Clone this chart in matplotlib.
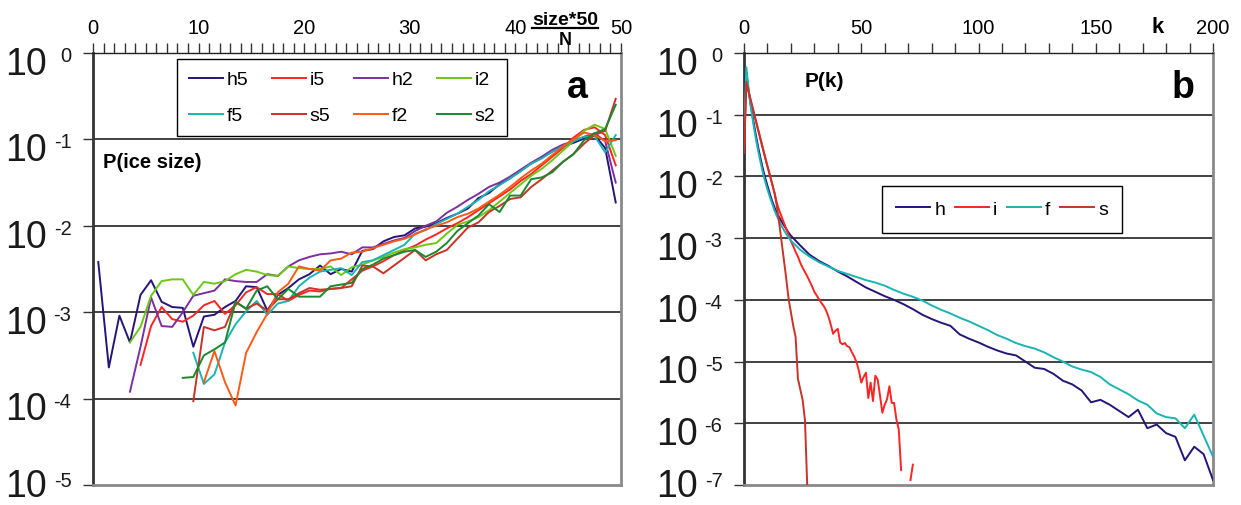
import numpy as np
import matplotlib
matplotlib.use("Agg")
import matplotlib.pyplot as plt
from matplotlib.lines import Line2D
from matplotlib.ticker import MultipleLocator, NullLocator

plt.rcParams["font.family"] = ["Liberation Sans", "DejaVu Sans"]

nan = np.nan

# ---- panel a: P(ice size), values given as log10, one per size class 0..49
size_classes = np.arange(50)

h5 = [-2.42, -3.64, -3.04, -3.35, -2.80, -2.63, -2.88, -2.94, -2.95, -3.40,
      -3.05, -3.03, -2.94, -2.87, -2.70, -2.71, -2.98, -2.80, -2.72, -2.62,
      -2.56, -2.46, -2.56, -2.50, -2.53, -2.29, -2.27, -2.18, -2.13, -2.11,
      -2.03, -2.01, -1.97, -1.91, -1.86, -1.80, -1.68, -1.62, -1.52, -1.45,
      -1.36, -1.28, -1.21, -1.14, -1.08, -1.04, -0.99, -0.95, -1.10, -1.73]
i5 = [nan, nan, nan, nan, -3.61, -3.16, -2.94, -3.08, -3.11, -3.04,
      -2.92, -2.87, -3.02, -2.92, -2.77, -2.71, -2.79, -2.79, -2.87, -2.80,
      -2.75, -2.76, -2.73, -2.72, -2.62, -2.52, -2.47, -2.41, -2.34, -2.28,
      -2.23, -2.16, -2.10, -2.03, -1.97, -1.90, -1.82, -1.74, -1.66, -1.58,
      -1.48, -1.40, -1.30, -1.20, -1.10, -0.98, -0.89, -0.86, -0.95, -1.30]
h2 = [nan, nan, nan, -3.92, -3.40, -2.83, -3.16, -3.17, -3.00, -2.81,
      -2.78, -2.75, -2.62, -2.64, -2.65, -2.65, -2.56, -2.58, -2.47, -2.40,
      -2.36, -2.33, -2.32, -2.30, -2.33, -2.25, -2.25, -2.21, -2.17, -2.14,
      -2.06, -2.00, -1.95, -1.85, -1.78, -1.70, -1.63, -1.55, -1.50, -1.43,
      -1.35, -1.27, -1.20, -1.12, -1.06, -1.02, -0.97, -0.93, -1.02, -1.50]
i2 = [nan, nan, nan, -3.35, -3.17, -2.81, -2.64, -2.62, -2.62, -2.80,
      -2.65, -2.67, -2.64, -2.56, -2.51, -2.53, -2.57, -2.58, -2.47, -2.49,
      -2.50, -2.50, -2.47, -2.57, -2.48, -2.45, -2.40, -2.36, -2.31, -2.27,
      -2.25, -2.22, -2.20, -2.09, -1.99, -1.95, -1.90, -1.82, -1.72, -1.62,
      -1.52, -1.42, -1.34, -1.24, -1.13, -1.02, -0.90, -0.83, -0.88, -1.19]
f5 = [nan, nan, nan, nan, nan, nan, nan, nan, nan,
      -3.47, -3.83, -3.72, -3.35, -3.14, -2.99, -2.87, -3.03, -2.90, -2.87, -2.70,
      -2.60, -2.53, -2.51, -2.49, -2.57, -2.42, -2.40, -2.34, -2.28, -2.22,
      -2.09, -2.05, -1.98, -1.92, -1.86, -1.78, -1.70, -1.60, -1.53, -1.45,
      -1.37, -1.28, -1.22, -1.14, -1.08, -1.02, -0.97, -0.96, -1.15, -0.95]
s5 = [nan, nan, nan, nan, nan, nan, nan, nan, nan,
      -4.03, -3.17, -3.21, -3.17, -2.88, -2.96, -2.90, -2.98, -2.85, -2.85, -2.78,
      -2.72, -2.74, -2.73, -2.72, -2.70, -2.46, -2.47, -2.55, -2.46, -2.37,
      -2.28, -2.40, -2.33, -2.28, -2.15, -2.02, -1.96, -1.84, -1.77, -1.69,
      -1.67, -1.55, -1.46, -1.36, -1.26, -1.17, -1.05, -0.95, -0.90, -0.53]
f2 = [nan, nan, nan, nan, nan, nan, nan, nan, nan, nan,
      -3.81, -3.45, -3.81, -4.08, -3.47, -3.23, -3.02, -2.77, -2.67, -2.47,
      -2.50, -2.52, -2.40, -2.38, -2.31, -2.30, -2.26, -2.22, -2.18, -2.15,
      -2.10, -2.04, -2.00, -1.96, -1.90, -1.86, -1.80, -1.72, -1.64, -1.55,
      -1.45, -1.36, -1.28, -1.18, -1.08, -1.00, -0.92, -0.95, -1.02, -1.01]
s2 = [nan, nan, nan, nan, nan, nan, nan, nan,
      -3.76, -3.75, -3.50, -3.43, -3.35, -2.88, -2.96, -2.75, -2.70, -2.85, -2.73, -2.82,
      -2.82, -2.82, -2.70, -2.68, -2.66, -2.50, -2.45, -2.38, -2.34, -2.30,
      -2.28, -2.36, -2.30, -2.20, -2.06, -1.97, -1.88, -1.75, -1.84, -1.65,
      -1.65, -1.46, -1.44, -1.38, -1.26, -1.17, -1.01, -0.93, -0.88, -0.60]

# ---- panel b: P(k), log10 values
k_hf = np.concatenate([np.arange(0, 21), np.arange(24, 201, 4)])
h = [-1.15, -0.32, -0.62, -0.88, -1.10, -1.32, -1.52, -1.70, -1.87, -2.02,
     -2.15, -2.28, -2.40, -2.50, -2.59, -2.66, -2.73, -2.79, -2.85, -2.91, -2.96,
     -3.12, -3.27, -3.37, -3.45, -3.54, -3.62, -3.71, -3.80, -3.87, -3.94,
     -4.00, -4.07, -4.15, -4.24, -4.31, -4.37, -4.42, -4.56, -4.63, -4.69,
     -4.76, -4.82, -4.87, -4.90, -5.00, -5.10, -5.12, -5.20, -5.31, -5.37,
     -5.47, -5.66, -5.62, -5.70, -5.80, -5.90, -5.78, -6.08, -6.02, -6.16,
     -6.22, -6.60, -6.38, -6.50, -6.92]
f = [-1.30, -0.23, -0.60, -0.90, -1.15, -1.38, -1.58, -1.76, -1.93, -2.08,
     -2.21, -2.33, -2.44, -2.55, -2.64, -2.72, -2.80, -2.87, -2.93, -2.99, -3.04,
     -3.19, -3.30, -3.39, -3.46, -3.53, -3.58, -3.63, -3.68, -3.72, -3.77,
     -3.84, -3.90, -3.95, -4.01, -4.09, -4.16, -4.22, -4.29, -4.35, -4.42,
     -4.49, -4.57, -4.63, -4.70, -4.75, -4.79, -4.85, -4.93, -5.00, -5.08,
     -5.13, -5.17, -5.25, -5.37, -5.45, -5.53, -5.63, -5.70, -5.84, -5.90,
     -5.92, -6.08, -5.86, -6.20, -6.54]
k_i = np.arange(0, 73)
i = [-1.60, -0.49, -0.64, -0.80, -0.95, -1.10, -1.25, -1.40, -1.55, -1.70,
     -1.84, -1.98, -2.12, -2.26, -2.43, -2.55, -2.65, -2.75, -2.85, -2.95,
     -3.05, -3.13, -3.22, -3.30, -3.40, -3.48, -3.55, -3.62, -3.70, -3.78,
     -3.87, -3.93, -3.99, -4.05, -4.10, -4.17, -4.27, -4.40, -4.55, -4.50,
     -4.47, -4.69, -4.72, -4.70, -4.75, -4.77, -4.85, -4.92, -5.01, -5.15,
     -5.34, -5.25, -5.18, -5.59, -5.34, -5.64, -5.23, -5.29, -5.55, -5.83,
     -5.70, -5.61, -5.40, -5.67, -5.67, -5.94, -6.10, -6.76, nan, nan,
     nan, -6.92, -6.67]
k_s = np.arange(0, 28)
s = [-1.62, -0.47, -0.62, -0.78, -0.93, -1.08, -1.23, -1.38, -1.53, -1.68,
     -1.83, -1.97, -2.12, -2.27, -2.48, -2.75, -3.05, -3.35, -3.65, -3.98,
     -4.20, -4.42, -4.60, -5.28, -5.45, -5.62, -5.95, -7.05]

colors = {
    "h": "#261478", "i": "#ff2424", "h2": "#7d2fa0", "i2": "#6cc814",
    "f": "#1ab4b4", "s": "#c83228", "f2": "#ff5a14", "s2": "#168a2c",
}

W, H = 1241, 506
fig = plt.figure(figsize=(W / 100, H / 100), dpi=100)


def px(x, y):
    return x / W, 1 - y / H


ax_a = fig.add_axes([93 / W, 1 - 486 / H, 528 / W, 432 / H])
ax_b = fig.add_axes([744 / W, 1 - 486 / H, 469 / W, 432 / H])


def style_axes(ax, xmax, major, minor, low_exp):
    ax.set_yscale("log")
    ax.set_xlim(0, xmax)
    ax.set_ylim(10.0 ** low_exp, 1)
    ax.xaxis.tick_top()
    ax.xaxis.set_major_locator(MultipleLocator(major))
    ax.xaxis.set_minor_locator(MultipleLocator(minor))
    ax.tick_params(axis="x", which="both", direction="out", length=7,
                   width=1, color="#333333", labelsize=14.5, pad=4.5)
    ax.set_yticks([10.0 ** e for e in range(low_exp, 1)])
    ax.yaxis.set_minor_locator(NullLocator())
    ax.tick_params(axis="y", which="major", direction="out", length=7,
                   width=1, color="#333333", labelleft=False)
    for e in range(low_exp + 1, 0):
        ax.axhline(10.0 ** e, color="#333333", lw=1.3, zorder=1)
    ax.spines["top"].set_color("#222222")
    ax.spines["top"].set_linewidth(1.0)
    ax.spines["left"].set_color("#333333")
    ax.spines["left"].set_linewidth(2.0)
    for side in ("right", "bottom"):
        ax.spines[side].set_color("#8a8a8a")
        ax.spines[side].set_linewidth(2.0)
    # y labels drawn as "10" plus a raised exponent; the lowest one sits a bit higher
    for e in range(low_exp, 1):
        lift = 7 if e == low_exp else 0
        ax.annotate("10", xy=(0, 10.0 ** e), xycoords=("axes fraction", "data"),
                    xytext=(-33, -15 + lift), textcoords="offset points",
                    ha="right", va="baseline", fontsize=27, color="#1a1a1a",
                    annotation_clip=False)
        ax.annotate(str(e), xy=(0, 10.0 ** e), xycoords=("axes fraction", "data"),
                    xytext=(-15.5, -5.8 + lift * 0.7), textcoords="offset points",
                    ha="right", va="baseline", fontsize=14.5, color="#1a1a1a",
                    annotation_clip=False)


style_axes(ax_a, 50, 10, 1, -5)
style_axes(ax_b, 200, 50, 10, -7)

# panel a lines
series_a = [("h5", h5, "h"), ("i5", i5, "i"), ("h2", h2, "h2"), ("i2", i2, "i2"),
            ("f5", f5, "f"), ("s5", s5, "s"), ("f2", f2, "f2"), ("s2", s2, "s2")]
lines_a = {}
for name, vals, ckey in series_a:
    (ln,) = ax_a.plot(size_classes + 0.5, 10.0 ** np.array(vals),
                      color=colors[ckey], lw=1.4, label=name, zorder=3)
    lines_a[name] = ln

order = ["h5", "f5", "i5", "s5", "h2", "f2", "i2", "s2"]
leg = ax_a.legend([lines_a[n] for n in order], order, ncol=4, fontsize=14,
                  loc="upper left", bbox_to_anchor=(0.159, 0.986),
                  borderaxespad=0, handlelength=1.75, handletextpad=0.2,
                  columnspacing=1.2, labelspacing=0.95, borderpad=0.6,
                  fancybox=False, edgecolor="black", framealpha=1)
leg.get_frame().set_linewidth(1.0)

# panel b lines
ax_b.plot(k_hf, 10.0 ** np.array(h), color=colors["h"], lw=1.4, label="h", zorder=3)
ax_b.plot(k_i, 10.0 ** np.array(i), color=colors["i"], lw=1.4, label="i", zorder=3)
ax_b.plot(k_hf, 10.0 ** np.array(f), color=colors["f"], lw=1.4, label="f", zorder=3)
ax_b.plot(k_s, 10.0 ** np.array(s), color=colors["s"], lw=1.4, label="s", zorder=3)
leg_b = ax_b.legend(ncol=4, fontsize=14, loc="upper left",
                    bbox_to_anchor=(0.294, 0.692), borderaxespad=0,
                    handlelength=1.75, handletextpad=0.2, columnspacing=0.5,
                    borderpad=0.75, fancybox=False, edgecolor="black",
                    framealpha=1)
leg_b.get_frame().set_linewidth(1.0)

# annotations
fig.text(*px(103, 168), "P(ice size)", fontsize=14.5, fontweight="bold",
         ha="left", va="baseline")
fig.text(*px(577, 98), "a", fontsize=27, fontweight="bold", ha="center",
         va="baseline")
fig.text(*px(1183, 98), "b", fontsize=27, fontweight="bold", ha="center",
         va="baseline")
fig.text(*px(805, 87), "P(k)", fontsize=15, fontweight="bold", ha="left",
         va="baseline")
fig.text(*px(1158, 33), "k", fontsize=16, fontweight="bold", ha="center",
         va="baseline")
fig.text(*px(565, 25), "size*50", fontsize=14, fontweight="bold", ha="center",
         va="baseline")
fig.add_artist(Line2D([532 / W, 598 / W], [1 - 28.5 / H, 1 - 28.5 / H],
                      color="black", lw=1.6))
fig.text(*px(565, 45), "N", fontsize=13, fontweight="bold", ha="center",
         va="baseline")

fig.savefig("out.png", dpi=100)
